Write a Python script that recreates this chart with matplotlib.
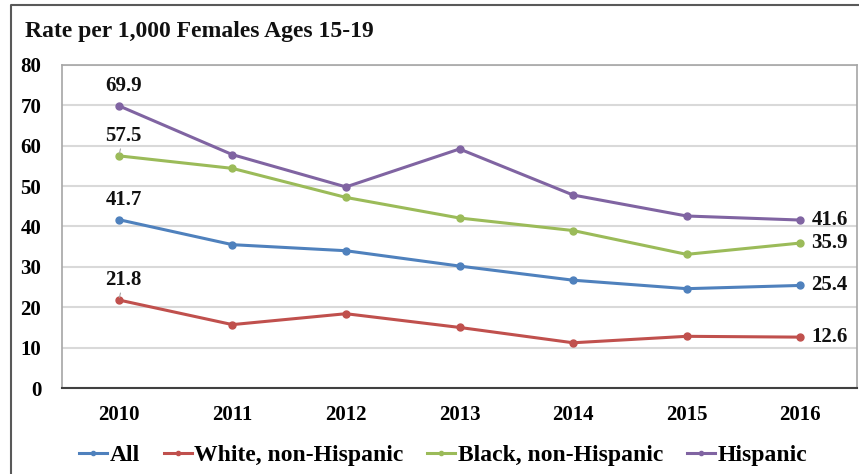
import matplotlib
matplotlib.use("Agg")
import matplotlib.pyplot as plt
from matplotlib.lines import Line2D

years = ["2010", "2011", "2012", "2013", "2014", "2015", "2016"]
series_names = ["All", "White, non-Hispanic", "Black, non-Hispanic", "Hispanic"]
all_vals = [41.7, 35.5, 34.0, 30.2, 26.7, 24.6, 25.4]
white_vals = [21.8, 15.7, 18.4, 15.0, 11.2, 12.8, 12.6]
black_vals = [57.5, 54.4, 47.2, 42.1, 39.0, 33.1, 35.9]
hisp_vals = [69.9, 57.8, 49.8, 59.2, 47.8, 42.6, 41.6]
colors = ["#4F81BD", "#C0504D", "#9BBB59", "#8064A2"]
leader = [False, True, True, False]
y_ticks = [0, 10, 20, 30, 40, 50, 60, 70, 80]
title = "Rate per 1,000 Females Ages 15-19"

plt.rcParams['font.family'] = ['Liberation Serif', 'DejaVu Serif']

fig = plt.figure(figsize=(8.59, 4.74), dpi=100)
ax = fig.add_axes([62/859, 1-388/474, (857-62)/859, (388-65)/474])

x = list(range(len(years)))
all_series = [all_vals, white_vals, black_vals, hisp_vals]
for vals, name, c, ld in zip(all_series, series_names, colors, leader):
    ax.plot(x, vals, color=c, lw=2.2, marker='o', ms=5, label=name, zorder=3)
    ap = dict(arrowstyle='-', color='#A6A6A6', lw=0.8, shrinkA=0, shrinkB=2) if ld else None
    ax.annotate(f"{vals[0]:.1f}", (x[0], vals[0]), xytext=(3.5, 7),
                textcoords='offset points', ha='center', va='bottom',
                fontsize=15, fontweight='bold', color='#111111',
                arrowprops=ap, zorder=4)
    ax.annotate(f"{vals[-1]:.1f}", (x[-1], vals[-1]), xytext=(8, 0),
                textcoords='offset points', ha='left', va='center',
                fontsize=15, fontweight='bold', color='#111111')

ax.set_xlim(-0.5, len(years) - 0.5)
ax.set_ylim(0, 80)
ax.set_yticks(y_ticks)
ax.set_xticks(x)
ax.set_xticklabels(years)
ax.tick_params(axis='both', length=0, labelsize=15)
ax.tick_params(axis='y', pad=15)
ax.tick_params(axis='x', pad=12)
for lab in ax.get_xticklabels() + ax.get_yticklabels():
    lab.set_fontweight('bold')
ax.grid(axis='y', color='#D9D9D9', lw=1.5, zorder=0)
ax.set_axisbelow(True)
for s in ['top', 'right', 'left']:
    ax.spines[s].set_color('#A6A6A6')
    ax.spines[s].set_linewidth(1.2)
ax.spines['bottom'].set_color('#404040')
ax.spines['bottom'].set_linewidth(1.5)

fig.text(25/859, 1-31/474, title, fontsize=17, fontweight='bold',
         ha='left', va='center', color='#111111')

leg = fig.legend(loc='center', bbox_to_anchor=(443/859, 1-455/474), ncol=4,
                 frameon=False, prop={'size': 17, 'weight': 'bold'},
                 handlelength=1.2, handletextpad=0.1, columnspacing=1.0,
                 markerscale=0.6, borderpad=0.2)

fig.add_artist(Line2D([11/859, 11/859, 1.0], [0, 1-5/474, 1-5/474],
                      transform=fig.transFigure, color='#595959', lw=1.5))

fig.savefig("out.png", dpi=100)
